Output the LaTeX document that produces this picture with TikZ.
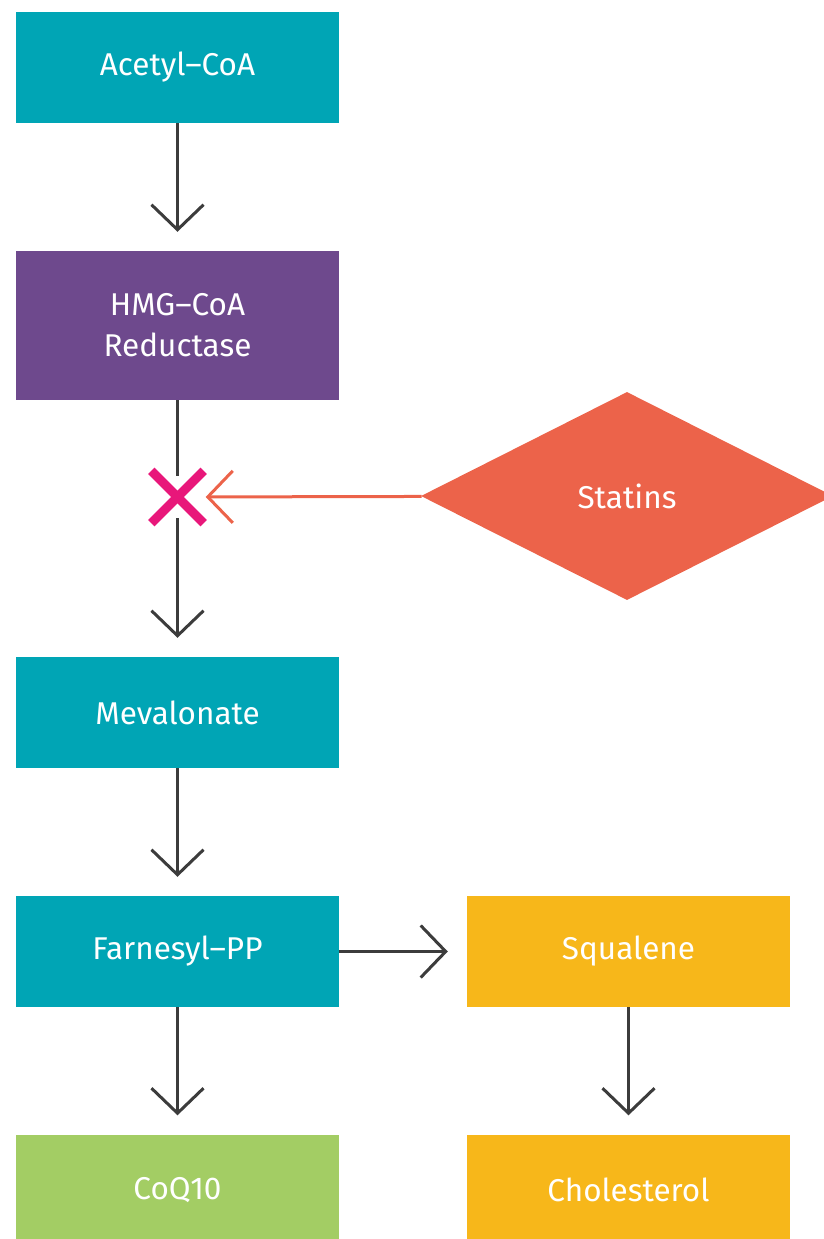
\documentclass[tikz,border=0pt]{standalone}
\usepackage{fontspec}
\setmainfont{Fira Sans}
\usetikzlibrary{shapes.geometric, arrows.meta, positioning}
\definecolor{boxteal}{HTML}{00A5B5}
\definecolor{boxpurple}{HTML}{6E498D}
\definecolor{boxorange}{HTML}{EC634A}
\definecolor{boxyellow}{HTML}{F7B71A}
\definecolor{boxgreen}{HTML}{A3CD64}
\definecolor{crossred}{HTML}{E8177A}
\definecolor{linegray}{HTML}{3C3C3C}

\begin{document}
\begin{tikzpicture}[x=1pt, y=-1pt,
    box/.style={rectangle, fill=#1, text=white, inner sep=0pt,
        minimum width=323pt, minimum height=111pt, align=center,
        font=\fontsize{31.5}{41}\selectfont},
    flow/.style={draw=linegray, line width=3pt, shorten >=19pt,
        -{Straight Barb[length=25pt, width=52pt]}}]
    \useasboundingbox (0,0) rectangle (823,1239);

    % Hauptweg
    \node[box=boxteal] (acetyl) at (177.5,67.5) {Acetyl–CoA};
    \node[box=boxpurple, minimum height=149pt] (hmg) at (177.5,325.5) {HMG–CoA\\Reductase};
    \node[box=boxteal] (meval) at (177.5,712.5) {Mevalonate};
    \node[box=boxteal] (farnesyl) at (177.5,951.5) {Farnesyl–PP};
    \node[box=boxgreen] (coq) at (177.5,1190) {CoQ10};

    % Seitenzweig
    \node[box=boxyellow] (squalene) at (628.5,951.5) {Squalene};
    \node[box=boxyellow] (chol) at (628.5,1190) {Cholesterol};

    % Hemmer
    \node[diamond, fill=boxorange, text=white, inner sep=0pt, minimum width=412pt,
        minimum height=208pt, font=\fontsize{31.5}{41}\selectfont] (statins) at (627,496) {Statins};
    \node[minimum size=42pt, inner sep=0pt] (stop) at (177.5,497) {};
    \draw[crossred, line width=9pt, shorten <=-7pt, shorten >=-7pt] (stop.north west) -- (stop.south east);
    \draw[crossred, line width=9pt, shorten <=-7pt, shorten >=-7pt] (stop.north east) -- (stop.south west);

    % Pfeile
    \draw[flow] (acetyl) -- (hmg);
    \draw[draw=linegray, line width=3pt] (hmg) -- (stop);
    \draw[flow] (stop) -- (meval);
    \draw[flow] (meval) -- (farnesyl);
    \draw[flow] (farnesyl) -- (coq);
    \draw[flow] (farnesyl) -- (squalene);
    \draw[flow] (squalene) -- (chol);
    \draw[draw=boxorange, line width=3pt, shorten >=7pt,
        -{Straight Barb[length=25pt, width=52pt]}] (statins) -- (stop);
\end{tikzpicture}
\end{document}
